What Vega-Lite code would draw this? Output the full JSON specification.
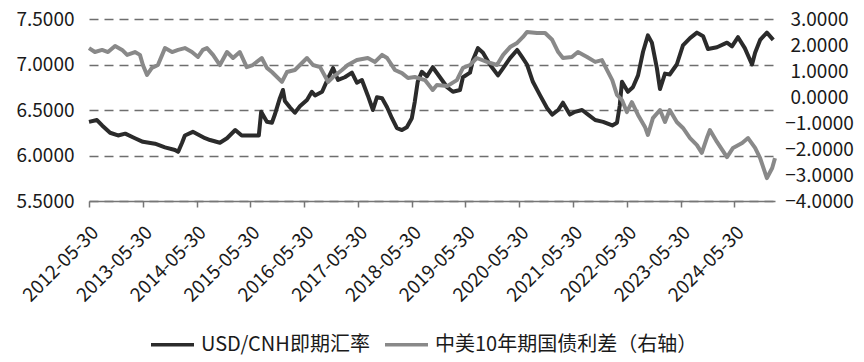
{
  "$schema": "https://vega.github.io/schema/vega-lite/v6.json",
  "width": 686,
  "height": 182,
  "autosize": {"type": "none"},
  "padding": {"left": 89, "top": 19, "right": 89, "bottom": 161},
  "background": "white",
  "config": {"view": {"stroke": null}, "font": "Noto Sans CJK SC"},
  "datasets": {
    "cnh": [
      {"d": "2012-05-30", "v": 6.37}, {"d": "2012-07-23", "v": 6.39}, {"d": "2012-08-27", "v": 6.33}, {"d": "2012-10-20", "v": 6.25},
      {"d": "2012-12-13", "v": 6.22}, {"d": "2013-01-31", "v": 6.24}, {"d": "2013-04-07", "v": 6.19}, {"d": "2013-05-31", "v": 6.15},
      {"d": "2013-08-21", "v": 6.13}, {"d": "2013-10-28", "v": 6.09}, {"d": "2014-01-04", "v": 6.06}, {"d": "2014-01-25", "v": 6.04},
      {"d": "2014-02-21", "v": 6.14}, {"d": "2014-03-12", "v": 6.22}, {"d": "2014-05-05", "v": 6.26}, {"d": "2014-07-27", "v": 6.19},
      {"d": "2014-08-30", "v": 6.17}, {"d": "2014-11-05", "v": 6.14}, {"d": "2014-12-23", "v": 6.19}, {"d": "2015-02-17", "v": 6.28},
      {"d": "2015-04-02", "v": 6.22}, {"d": "2015-05-27", "v": 6.22}, {"d": "2015-07-27", "v": 6.22}, {"d": "2015-08-12", "v": 6.48},
      {"d": "2015-09-20", "v": 6.37}, {"d": "2015-10-24", "v": 6.36}, {"d": "2015-11-13", "v": 6.45}, {"d": "2015-12-17", "v": 6.63},
      {"d": "2016-01-07", "v": 6.72}, {"d": "2016-01-20", "v": 6.6}, {"d": "2016-02-23", "v": 6.53}, {"d": "2016-03-28", "v": 6.47},
      {"d": "2016-05-01", "v": 6.54}, {"d": "2016-06-18", "v": 6.61}, {"d": "2016-07-21", "v": 6.7}, {"d": "2016-08-12", "v": 6.66},
      {"d": "2016-09-29", "v": 6.7}, {"d": "2016-11-09", "v": 6.85}, {"d": "2016-12-12", "v": 6.96}, {"d": "2017-01-15", "v": 6.83},
      {"d": "2017-03-02", "v": 6.86}, {"d": "2017-04-19", "v": 6.91}, {"d": "2017-05-23", "v": 6.8}, {"d": "2017-06-26", "v": 6.83},
      {"d": "2017-08-05", "v": 6.66}, {"d": "2017-09-09", "v": 6.5}, {"d": "2017-10-06", "v": 6.64}, {"d": "2017-11-10", "v": 6.63},
      {"d": "2017-12-14", "v": 6.53}, {"d": "2018-01-16", "v": 6.41}, {"d": "2018-02-19", "v": 6.3}, {"d": "2018-03-25", "v": 6.28},
      {"d": "2018-04-27", "v": 6.31}, {"d": "2018-05-31", "v": 6.41}, {"d": "2018-06-20", "v": 6.59}, {"d": "2018-07-10", "v": 6.81},
      {"d": "2018-08-07", "v": 6.92}, {"d": "2018-09-10", "v": 6.87}, {"d": "2018-10-20", "v": 6.97}, {"d": "2018-12-08", "v": 6.86},
      {"d": "2019-01-26", "v": 6.75}, {"d": "2019-03-06", "v": 6.7}, {"d": "2019-04-23", "v": 6.72}, {"d": "2019-05-13", "v": 6.86},
      {"d": "2019-06-30", "v": 6.91}, {"d": "2019-07-20", "v": 7.05}, {"d": "2019-08-23", "v": 7.18}, {"d": "2019-09-26", "v": 7.13},
      {"d": "2019-11-12", "v": 7.0}, {"d": "2020-01-06", "v": 6.88}, {"d": "2020-02-10", "v": 6.96}, {"d": "2020-03-28", "v": 7.07},
      {"d": "2020-05-15", "v": 7.16}, {"d": "2020-06-18", "v": 7.08}, {"d": "2020-07-21", "v": 7.0}, {"d": "2020-08-30", "v": 6.81},
      {"d": "2020-10-18", "v": 6.66}, {"d": "2020-12-05", "v": 6.52}, {"d": "2021-01-08", "v": 6.45}, {"d": "2021-02-18", "v": 6.5},
      {"d": "2021-03-22", "v": 6.58}, {"d": "2021-05-08", "v": 6.45}, {"d": "2021-06-12", "v": 6.48}, {"d": "2021-07-30", "v": 6.5},
      {"d": "2021-09-09", "v": 6.45}, {"d": "2021-10-27", "v": 6.39}, {"d": "2021-12-20", "v": 6.37}, {"d": "2022-02-20", "v": 6.33},
      {"d": "2022-03-24", "v": 6.36}, {"d": "2022-04-12", "v": 6.55}, {"d": "2022-04-27", "v": 6.81}, {"d": "2022-06-06", "v": 6.7},
      {"d": "2022-07-10", "v": 6.75}, {"d": "2022-08-14", "v": 6.88}, {"d": "2022-09-17", "v": 7.14}, {"d": "2022-10-20", "v": 7.32},
      {"d": "2022-11-16", "v": 7.24}, {"d": "2022-12-20", "v": 6.96}, {"d": "2023-01-10", "v": 6.73}, {"d": "2023-02-13", "v": 6.9},
      {"d": "2023-03-17", "v": 6.89}, {"d": "2023-05-04", "v": 7.0}, {"d": "2023-06-15", "v": 7.21}, {"d": "2023-08-02", "v": 7.29},
      {"d": "2023-09-18", "v": 7.35}, {"d": "2023-10-30", "v": 7.31}, {"d": "2023-12-02", "v": 7.17}, {"d": "2024-02-01", "v": 7.19},
      {"d": "2024-04-09", "v": 7.24}, {"d": "2024-05-13", "v": 7.2}, {"d": "2024-06-23", "v": 7.3}, {"d": "2024-08-08", "v": 7.18},
      {"d": "2024-09-26", "v": 7.0}, {"d": "2024-10-17", "v": 7.13}, {"d": "2024-11-20", "v": 7.27}, {"d": "2025-01-05", "v": 7.35},
      {"d": "2025-02-17", "v": 7.27}
    ],
    "spread": [
      {"d": "2012-05-30", "v": 1.88}, {"d": "2012-07-09", "v": 1.73}, {"d": "2012-08-27", "v": 1.81}, {"d": "2012-10-06", "v": 1.73},
      {"d": "2012-11-23", "v": 1.96}, {"d": "2013-01-10", "v": 1.81}, {"d": "2013-02-13", "v": 1.62}, {"d": "2013-04-07", "v": 1.73},
      {"d": "2013-05-11", "v": 1.62}, {"d": "2013-05-31", "v": 1.23}, {"d": "2013-06-28", "v": 0.85}, {"d": "2013-07-31", "v": 1.12},
      {"d": "2013-09-10", "v": 1.23}, {"d": "2013-10-28", "v": 1.88}, {"d": "2013-12-15", "v": 1.73}, {"d": "2014-01-25", "v": 1.81},
      {"d": "2014-03-12", "v": 1.88}, {"d": "2014-04-29", "v": 1.73}, {"d": "2014-06-09", "v": 1.54}, {"d": "2014-07-12", "v": 1.81},
      {"d": "2014-08-09", "v": 1.88}, {"d": "2014-09-19", "v": 1.62}, {"d": "2014-11-05", "v": 1.23}, {"d": "2014-12-23", "v": 1.73},
      {"d": "2015-02-02", "v": 1.5}, {"d": "2015-03-20", "v": 1.73}, {"d": "2015-05-06", "v": 1.15}, {"d": "2015-06-16", "v": 1.23},
      {"d": "2015-08-16", "v": 1.5}, {"d": "2015-09-20", "v": 1.12}, {"d": "2015-10-24", "v": 0.96}, {"d": "2015-12-31", "v": 0.58},
      {"d": "2016-02-03", "v": 0.96}, {"d": "2016-03-28", "v": 1.04}, {"d": "2016-06-18", "v": 1.5}, {"d": "2016-07-29", "v": 1.23},
      {"d": "2016-09-15", "v": 1.15}, {"d": "2016-11-09", "v": 0.58}, {"d": "2016-12-12", "v": 0.77}, {"d": "2017-02-11", "v": 1.04},
      {"d": "2017-03-22", "v": 1.23}, {"d": "2017-05-23", "v": 1.42}, {"d": "2017-08-05", "v": 1.5}, {"d": "2017-09-23", "v": 1.35},
      {"d": "2017-11-10", "v": 1.62}, {"d": "2017-12-14", "v": 1.5}, {"d": "2018-02-05", "v": 1.04}, {"d": "2018-03-25", "v": 0.92},
      {"d": "2018-05-05", "v": 0.73}, {"d": "2018-06-20", "v": 0.77}, {"d": "2018-08-28", "v": 0.65}, {"d": "2018-10-20", "v": 0.27},
      {"d": "2018-11-17", "v": 0.46}, {"d": "2019-01-26", "v": 0.42}, {"d": "2019-04-02", "v": 0.65}, {"d": "2019-05-13", "v": 1.12},
      {"d": "2019-06-30", "v": 1.23}, {"d": "2019-08-15", "v": 1.5}, {"d": "2019-10-23", "v": 1.35}, {"d": "2019-12-30", "v": 1.23},
      {"d": "2020-02-10", "v": 1.62}, {"d": "2020-03-28", "v": 1.92}, {"d": "2020-05-15", "v": 2.08}, {"d": "2020-06-24", "v": 2.31},
      {"d": "2020-07-21", "v": 2.5}, {"d": "2020-09-27", "v": 2.46}, {"d": "2020-11-21", "v": 2.46}, {"d": "2021-01-08", "v": 2.2},
      {"d": "2021-02-18", "v": 1.73}, {"d": "2021-03-22", "v": 1.5}, {"d": "2021-05-22", "v": 1.54}, {"d": "2021-07-02", "v": 1.73},
      {"d": "2021-09-02", "v": 1.54}, {"d": "2021-10-27", "v": 1.35}, {"d": "2021-12-12", "v": 1.42}, {"d": "2022-01-15", "v": 1.04},
      {"d": "2022-02-20", "v": 0.65}, {"d": "2022-03-24", "v": 0.08}, {"d": "2022-04-27", "v": -0.12}, {"d": "2022-05-30", "v": -0.58},
      {"d": "2022-07-03", "v": -0.2}, {"d": "2022-08-14", "v": -0.69}, {"d": "2022-09-30", "v": -1.15}, {"d": "2022-10-20", "v": -1.46},
      {"d": "2022-11-23", "v": -0.81}, {"d": "2023-01-10", "v": -0.5}, {"d": "2023-02-13", "v": -0.96}, {"d": "2023-03-17", "v": -0.5},
      {"d": "2023-05-04", "v": -0.96}, {"d": "2023-06-15", "v": -1.19}, {"d": "2023-08-02", "v": -1.58}, {"d": "2023-09-18", "v": -1.85},
      {"d": "2023-10-21", "v": -2.15}, {"d": "2023-11-24", "v": -1.58}, {"d": "2023-12-15", "v": -1.27}, {"d": "2024-02-01", "v": -1.73},
      {"d": "2024-04-09", "v": -2.31}, {"d": "2024-05-20", "v": -1.96}, {"d": "2024-07-21", "v": -1.77}, {"d": "2024-08-30", "v": -1.58},
      {"d": "2024-10-17", "v": -1.96}, {"d": "2024-11-20", "v": -2.35}, {"d": "2025-01-05", "v": -3.12}, {"d": "2025-02-10", "v": -2.73},
      {"d": "2025-03-01", "v": -2.35}
    ]
  },
  "layer": [
    {
      "data": {"name": "cnh"},
      "mark": {"type": "line", "strokeWidth": 4, "strokeJoin": "round"},
      "encoding": {
        "x": {
          "field": "d", "type": "temporal",
          "scale": {"type": "utc", "domain": [{"year": 2012, "month": 5, "date": 30, "utc": true}, {"year": 2025, "month": 3, "date": 1, "utc": true}]},
          "axis": {
            "title": null,
            "values": [
              {"year": 2012, "month": 5, "date": 30, "utc": true}, {"year": 2013, "month": 5, "date": 30, "utc": true},
              {"year": 2014, "month": 5, "date": 30, "utc": true}, {"year": 2015, "month": 5, "date": 30, "utc": true},
              {"year": 2016, "month": 5, "date": 30, "utc": true}, {"year": 2017, "month": 5, "date": 30, "utc": true},
              {"year": 2018, "month": 5, "date": 30, "utc": true}, {"year": 2019, "month": 5, "date": 30, "utc": true},
              {"year": 2020, "month": 5, "date": 30, "utc": true}, {"year": 2021, "month": 5, "date": 30, "utc": true},
              {"year": 2022, "month": 5, "date": 30, "utc": true}, {"year": 2023, "month": 5, "date": 30, "utc": true},
              {"year": 2024, "month": 5, "date": 30, "utc": true}
            ],
            "format": "%Y-%m-%d",
            "labelAngle": -45, "labelAlign": "right", "labelBaseline": "middle",
            "labelPadding": 22, "labelOffset": 6, "labelOverlap": false, "labelFlush": false,
            "labelFont": "Noto Sans CJK SC", "labelFontSize": 19, "labelColor": "#1a1a1a",
            "tickSize": 6, "tickColor": "#767676", "tickWidth": 1.5,
            "domainColor": "#767676", "domainWidth": 1.5, "grid": false
          }
        },
        "y": {
          "field": "v", "type": "quantitative",
          "scale": {"domain": [5.5, 7.5], "nice": false, "zero": false},
          "axis": {
            "title": null, "values": [5.5, 6, 6.5, 7, 7.5], "format": ".4f",
            "grid": true, "gridDash": [9, 6], "gridColor": "#6e6e6e", "gridWidth": 1.5,
            "domain": false, "ticks": false, "tickSize": 0, "labelPadding": 15,
            "labelFont": "Noto Sans CJK SC", "labelFontSize": 19, "labelColor": "#1a1a1a"
          }
        },
        "color": {
          "datum": "USD/CNH即期汇率", "type": "nominal",
          "scale": {"domain": ["USD/CNH即期汇率", "中美10年期国债利差（右轴）"], "range": ["#2b2b2b", "#898989"]},
          "legend": {
            "orient": "none", "legendX": 60, "legendY": 302, "direction": "horizontal", "title": null,
            "symbolType": "stroke", "symbolSize": 1849, "symbolStrokeWidth": 3.5,
            "labelFont": "Noto Sans CJK SC", "labelFontSize": 20, "labelColor": "#1a1a1a", "labelLimit": 500,
            "columnPadding": 8, "labelOffset": 5, "padding": 0
          }
        }
      }
    },
    {
      "data": {"name": "spread"},
      "mark": {"type": "line", "strokeWidth": 4, "strokeJoin": "round"},
      "encoding": {
        "x": {"field": "d", "type": "temporal"},
        "y": {
          "field": "v", "type": "quantitative",
          "scale": {"domain": [-4, 3], "nice": false, "zero": false},
          "axis": {
            "orient": "right", "title": null, "values": [-4, -3, -2, -1, 0, 1, 2, 3], "format": ".4f",
            "grid": false, "domain": false, "ticks": false, "tickSize": 0,
            "labelAlign": "center", "labelPadding": 44,
            "labelFont": "Noto Sans CJK SC", "labelFontSize": 19, "labelColor": "#1a1a1a"
          }
        },
        "color": {
          "datum": "中美10年期国债利差（右轴）", "type": "nominal",
          "scale": {"domain": ["USD/CNH即期汇率", "中美10年期国债利差（右轴）"], "range": ["#2b2b2b", "#898989"]},
          "legend": {
            "orient": "none", "legendX": 60, "legendY": 302, "direction": "horizontal", "title": null,
            "symbolType": "stroke", "symbolSize": 1849, "symbolStrokeWidth": 3.5,
            "labelFont": "Noto Sans CJK SC", "labelFontSize": 20, "labelColor": "#1a1a1a", "labelLimit": 500,
            "columnPadding": 8, "labelOffset": 5, "padding": 0
          }
        }
      }
    }
  ],
  "resolve": {"scale": {"y": "independent"}}
}
